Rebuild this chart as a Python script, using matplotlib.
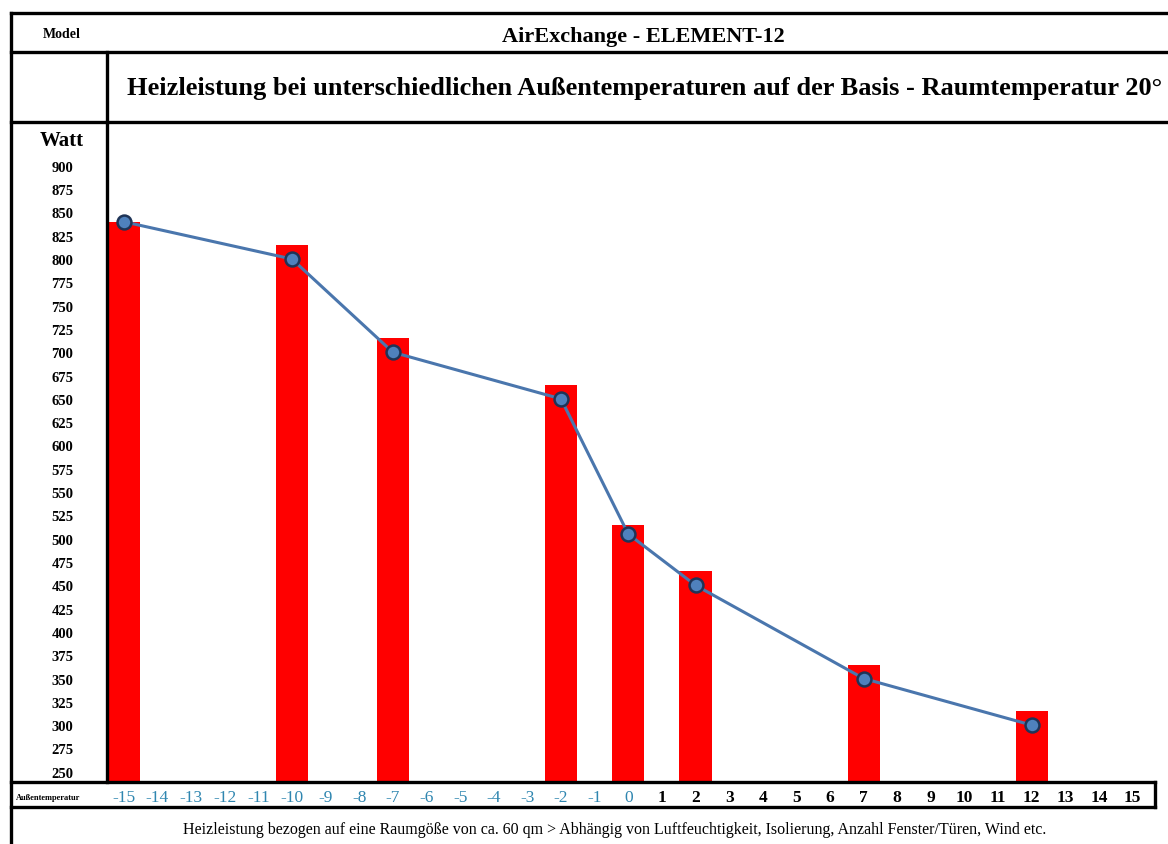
import matplotlib.pyplot as plt
from matplotlib.lines import Line2D

# Daten
temperaturen = [-15, -10, -7, -2, 0, 2, 7, 12]
balken_watt = [840, 815, 715, 665, 515, 465, 365, 315]
linie_watt = [840, 800, 700, 650, 505, 450, 350, 300]
x_ticks = list(range(-15, 16))
y_ticks = list(range(250, 901, 25))

W, H = 1168, 845
plt.rcParams['font.family'] = ['Liberation Serif', 'DejaVu Serif']

fig = plt.figure(figsize=(W / 100, H / 100), dpi=100)


def fx(px):
    return px / W


def fy(py):
    return 1 - py / H


# Hauptdiagramm
ax = fig.add_axes([fx(107), fy(783), fx(1168) - fx(107), fy(123) - fy(783)])
ax.bar(temperaturen, balken_watt, width=0.96, color='#FF0000', zorder=2)
ax.plot(temperaturen, linie_watt, color='#4A76AD', linewidth=2.2, marker='o',
        markersize=10, markerfacecolor='#4F81BD', markeredgecolor='#1F3457',
        markeredgewidth=1.8, zorder=3)

ax.set_xlim(-15.5, 16.05)
ax.set_ylim(239, 947)
for s in ['top', 'right', 'bottom']:
    ax.spines[s].set_visible(False)
ax.spines['left'].set_linewidth(2.4)

ax.set_yticks(y_ticks, [str(v) for v in y_ticks], fontsize=10.5, fontweight='bold')
ax.tick_params(axis='y', length=0, pad=32)
for lab in ax.get_yticklabels():
    lab.set_horizontalalignment('center')

ax.set_xticks(x_ticks, [str(v) for v in x_ticks], fontsize=12.5)
ax.tick_params(axis='x', length=0, pad=5)
for v, lab in zip(x_ticks, ax.get_xticklabels()):
    if v <= 0:
        lab.set_color('#2F86B0')
    else:
        lab.set_color('black')
        lab.set_fontweight('bold')

# Tabellenrahmen
lw = 2.4
linien = [
    ((11, 1168), (14, 14)),
    ((11, 1168), (53, 53)),
    ((11, 1168), (123, 123)),
    ((11, 11), (14, 845)),
    ((107, 107), (53, 123)),
    ((11, 1155), (783, 783)),
    ((11, 1155), (808, 808)),
    ((1155, 1155), (783, 808)),
]
for xs, ys in linien:
    fig.add_artist(Line2D([fx(xs[0]), fx(xs[1])], [fy(ys[0]), fy(ys[1])],
                          color='black', linewidth=lw, solid_capstyle='projecting'))

# Texte
fig.text(fx(62), fy(35), 'Model', ha='center', va='center', fontsize=10, fontweight='bold')
fig.text(fx(643), fy(37), 'AirExchange - ELEMENT-12', ha='center', va='center',
         fontsize=16, fontweight='bold')
fig.text(fx(127), fy(88),
         'Heizleistung bei unterschiedlichen Außentemperaturen auf der Basis - Raumtemperatur 20°',
         ha='left', va='center', fontsize=19, fontweight='bold')
fig.text(fx(62), fy(141), 'Watt', ha='center', va='center', fontsize=15, fontweight='bold')
fig.text(fx(48), fy(798), 'Außentemperatur', ha='center', va='center', fontsize=6,
         fontweight='bold')
fig.text(fx(615), fy(830),
         'Heizleistung bezogen auf eine Raumgöße von ca. 60 qm > Abhängig von Luftfeuchtigkeit, '
         'Isolierung, Anzahl Fenster/Türen, Wind etc.',
         ha='center', va='center', fontsize=11.5)

fig.savefig('out.png', dpi=100)
